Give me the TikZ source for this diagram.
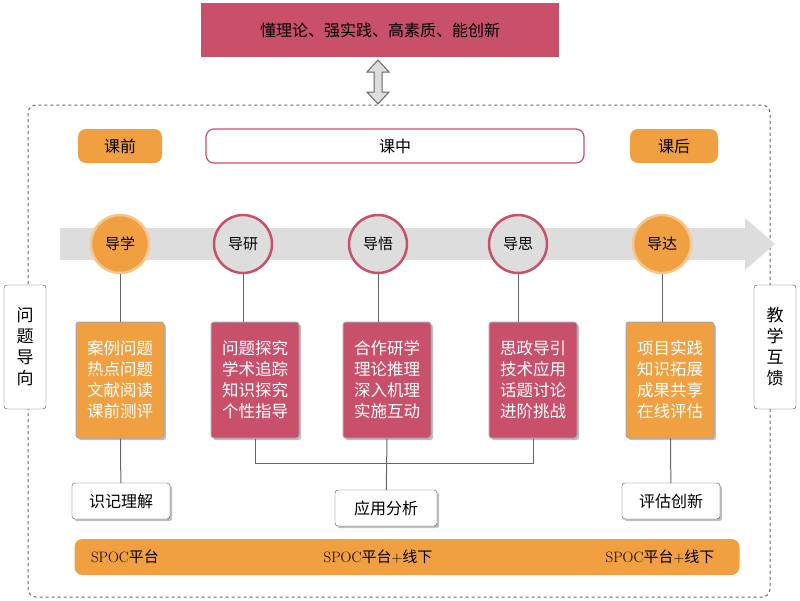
\documentclass[tikz,border=0pt]{standalone}
\usepackage{fontspec}
\newfontfamily\cjk{Noto Sans CJK SC}
\usetikzlibrary{arrows.meta,shadows}
\definecolor{crim}{HTML}{C9506B}
\definecolor{orng}{HTML}{F0A040}
\definecolor{gry}{HTML}{DDDDDD}
\tikzset{
  stage/.style={circle,minimum size=58pt,line width=2.5pt,font=\cjk\fontsize{15}{15}\selectfont},
  card/.style={draw=gray!70,line width=1pt,rounded corners=3pt,minimum width=88pt,minimum height=116pt,
    text=white,align=center,font=\cjk\fontsize{16.5}{21}\selectfont,drop shadow},
  tag/.style={draw=black!70,rounded corners=3pt,fill=white,minimum width=95pt,minimum height=36pt,
    font=\cjk\fontsize{16}{16}\selectfont,drop shadow},
  side/.style={draw=black!70,rounded corners=3pt,fill=white,minimum width=42pt,minimum height=124pt,
    align=center,font=\cjk\fontsize{17}{21}\selectfont},
  phase/.style={rounded corners=8pt,minimum height=34pt,font=\cjk\fontsize{16}{16}\selectfont}
}
\begin{document}
\begin{tikzpicture}[x=1pt,y=-1pt]
  \useasboundingbox (0,0) rectangle (800,600);
  % goal
  \node[fill=crim,minimum width=358pt,minimum height=54pt,font=\cjk\fontsize{16}{16}\selectfont] (goal) at (380,30) {懂理论、强实践、高素质、能创新};
  \draw[dashed,rounded corners=8pt,black!60,line width=1pt] (28,105) rectangle (770,597);
  \filldraw[fill=gry,draw=black!60,line width=1pt] (378,60) -- (389,72) -- (382,72) -- (382,92) -- (389,92)
    -- (378,104) -- (367,92) -- (374,92) -- (374,72) -- (367,72) -- cycle;
  % phases
  \node[phase,fill=orng,minimum width=84pt] (pre) at (120,146) {课前};
  \node[phase,draw=crim,line width=1.2pt,fill=white,minimum width=378pt] (mid) at (395,146) {课中};
  \node[phase,fill=orng,minimum width=88pt] (post) at (674,146) {课后};
  % main arrow
  \fill[gry] (60,228) rectangle (745,260);
  \fill[gry] (745,218) -- (775,244) -- (745,270) -- cycle;
  % stages
  \node[stage,draw=orng!60,fill=orng] (s1) at (120,244) {导学};
  \node[stage,draw=crim,fill=gry] (s2) at (243,244) {导研};
  \node[stage,draw=crim,fill=gry] (s3) at (378,244) {导悟};
  \node[stage,draw=crim,fill=gry] (s4) at (518,244) {导思};
  \node[stage,draw=orng!60,fill=orng] (s5) at (662,244) {导达};
  % cards
  \node[card,fill=orng] (c1) at (120,380) {案例问题\\热点问题\\文献阅读\\课前测评};
  \node[card,fill=crim] (c2) at (255,380) {问题探究\\学术追踪\\知识探究\\个性指导};
  \node[card,fill=crim] (c3) at (387,380) {合作研学\\理论推理\\深入机理\\实施互动};
  \node[card,fill=crim] (c4) at (533,380) {思政导引\\技术应用\\话题讨论\\进阶挑战};
  \node[card,fill=orng] (c5) at (670,380) {项目实践\\知识拓展\\成果共享\\在线评估};
  \foreach \i in {1,...,5} \draw[black!60,line width=1pt] (s\i) -- (s\i |- c\i.north);
  % outcomes
  \node[tag,minimum width=98pt] (o1) at (121,501) {识记理解};
  \node[tag,minimum width=102pt] (o2) at (386,508) {应用分析};
  \node[tag,minimum width=98pt] (o3) at (671,501) {评估创新};
  \draw[black!60,line width=1pt] (c1) -- (o1);
  \draw[black!60,line width=1pt] (c5) -- (o3);
  \draw[black!60,line width=1pt] (c2.south) -- ++(0,25) -| (c4.south);
  \draw[black!60,line width=1pt] (c3.south) -- (o2);
  % sides
  \node[side] (left) at (25,347) {问\\题\\导\\向};
  \node[side] (right) at (775,347) {教\\学\\互\\馈};
  % platform bar
  \node[fill=orng,rounded corners=8pt,minimum width=665pt,minimum height=36pt] (bar) at (407,557) {};
  \node[font=\fontsize{15}{15}\selectfont] (p1) at (125,557) {SPOC{\cjk 平台}};
  \node[font=\fontsize{15}{15}\selectfont] (p2) at (378,557) {SPOC{\cjk 平台}+{\cjk 线下}};
  \node[font=\fontsize{15}{15}\selectfont] (p3) at (660,557) {SPOC{\cjk 平台}+{\cjk 线下}};
\end{tikzpicture}
\end{document}
